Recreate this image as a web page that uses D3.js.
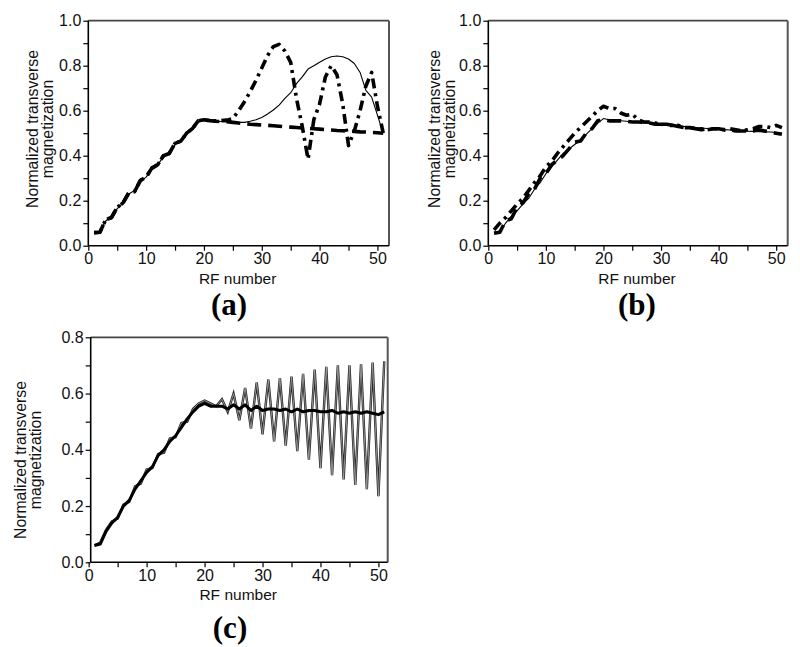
<!DOCTYPE html>
<html>
<head>
<meta charset="utf-8">
<script src="https://cdn.jsdelivr.net/npm/d3@7"></script>
<style>
  body { margin: 0; background: #fff; }
  svg { display: block; font-family: "Liberation Sans", Arial, sans-serif; }
</style>
</head>
<body>
<svg id="fig" width="800" height="647"></svg>
<script>
// RF pulse index (x)
const rfNumber = [1,2,3,4,5,6,7,8,9,10,11,12,13,14,15,16,17,18,19,20,21,22,23,24,25,26,
  27,28,29,30,31,32,33,34,35,36,37,38,39,40,41,42,43,44,45,46,47,48,49,50,51];

// panel (a)
const aSolid = [0.058,0.062,0.11,0.13,0.165,0.19,0.23,0.245,0.285,0.305,0.34,0.36,0.395,0.41,0.45,0.465,0.5,0.52,0.552,0.56,
  0.556,0.553,0.552,0.55,0.55,0.548,0.548,0.553,0.56,0.57,0.585,0.603,0.625,0.655,0.68,0.72,0.75,0.785,0.80,0.815,
  0.83,0.84,0.843,0.84,0.83,0.81,0.77,0.69,0.66,0.58,0.50];
const aDash = [0.058,0.06,0.115,0.125,0.17,0.19,0.235,0.24,0.29,0.305,0.345,0.36,0.40,0.41,0.455,0.465,0.50,0.52,0.555,0.56,
  0.556,0.553,0.552,0.551,0.548,0.545,0.543,0.54,0.538,0.536,0.535,0.533,0.531,0.529,0.527,0.525,0.523,0.521,0.52,0.518,
  0.516,0.514,0.512,0.511,0.509,0.508,0.506,0.505,0.503,0.502,0.50];
const aDashDot = [0.058,0.06,0.115,0.125,0.17,0.19,0.235,0.24,0.29,0.305,0.345,0.36,0.40,0.41,0.455,0.465,0.50,0.52,0.555,0.56,
  0.555,0.555,0.556,0.558,0.565,0.60,0.64,0.685,0.735,0.79,0.845,0.885,0.895,0.865,0.815,0.655,0.53,0.385,0.56,0.63,
  0.75,0.80,0.76,0.63,0.445,0.51,0.60,0.71,0.77,0.62,0.50];

// panel (b)
const bSolid = [0.06,0.065,0.10,0.13,0.155,0.185,0.21,0.25,0.28,0.32,0.35,0.38,0.41,0.43,0.45,0.47,0.495,0.52,0.545,0.565,
  0.56,0.557,0.555,0.553,0.55,0.548,0.546,0.544,0.542,0.54,0.537,0.535,0.532,0.53,0.528,0.525,0.523,0.521,0.52,0.518,
  0.516,0.514,0.512,0.51,0.509,0.508,0.507,0.506,0.505,0.503,0.50];
const bDash = [0.055,0.06,0.11,0.12,0.17,0.19,0.23,0.25,0.30,0.32,0.36,0.38,0.40,0.43,0.46,0.465,0.50,0.52,0.555,0.56,
  0.555,0.555,0.555,0.553,0.55,0.55,0.548,0.545,0.54,0.54,0.535,0.535,0.53,0.525,0.525,0.52,0.515,0.52,0.52,0.52,
  0.515,0.515,0.51,0.51,0.51,0.51,0.515,0.51,0.505,0.50,0.495];
const bDashDot = [0.07,0.10,0.125,0.155,0.185,0.21,0.245,0.28,0.31,0.35,0.375,0.41,0.44,0.47,0.50,0.525,0.55,0.575,0.60,0.62,
  0.61,0.61,0.59,0.58,0.585,0.56,0.55,0.55,0.545,0.54,0.54,0.535,0.535,0.525,0.525,0.52,0.52,0.515,0.52,0.52,
  0.515,0.52,0.515,0.51,0.515,0.52,0.53,0.53,0.525,0.535,0.525];

// panel (c)
const cThin = [0.06,0.07,0.115,0.145,0.155,0.205,0.215,0.27,0.28,0.33,0.335,0.385,0.39,0.44,0.445,0.495,0.50,0.545,0.565,0.575,
  0.565,0.555,0.58,0.535,0.60,0.505,0.62,0.475,0.64,0.455,0.65,0.43,0.655,0.415,0.66,0.395,0.67,0.365,0.685,0.335,
  0.695,0.31,0.70,0.295,0.70,0.275,0.705,0.26,0.71,0.235,0.715];
const cThick = [0.06,0.065,0.11,0.14,0.16,0.20,0.22,0.26,0.29,0.32,0.34,0.38,0.40,0.43,0.45,0.48,0.51,0.535,0.555,0.565,
  0.555,0.555,0.555,0.545,0.56,0.545,0.56,0.54,0.555,0.54,0.545,0.545,0.54,0.545,0.535,0.545,0.535,0.54,0.54,0.535,
  0.535,0.54,0.53,0.535,0.53,0.535,0.53,0.535,0.53,0.525,0.535];

// axis ticks
const xTicks = [0,5,10,15,20,25,30,35,40,45,50];
const xLabelled = [0,10,20,30,40,50];
const yTicksAB = [0,0.1,0.2,0.3,0.4,0.5,0.6,0.7,0.8,0.9,1.0];
const yTicksC = [0,0.1,0.2,0.3,0.4,0.5,0.6,0.7,0.8];
const yLabelled = [0,0.2,0.4,0.6,0.8,1.0];

const styles = {
  solid:   { width: 1.1, dash: null },
  dash:    { width: 3.6, dash: "14,7" },
  dashdot: { width: 3.6, dash: "10,5,3,5" }
};

const panels = [
  { tag: "(a)", left: 88.3, right: 389, top: 20.7, bottom: 245.7, xDom: [0, 52], yMax: 1.0, yTicks: yTicksAB,
    ylabX: 32, ylabY: 129, tagX: 229, tagY: 315,
    series: [ { v: aDash, s: "dash" }, { v: aDashDot, s: "dashdot" }, { v: aSolid, s: "solid" } ] },
  { tag: "(b)", left: 488.3, right: 787.7, top: 20.7, bottom: 245.7, xDom: [0, 52], yMax: 1.0, yTicks: yTicksAB,
    ylabX: 434, ylabY: 129, tagX: 637, tagY: 315,
    series: [ { v: bDash, s: "dash" }, { v: bDashDot, s: "dashdot" }, { v: bSolid, s: "solid" } ] },
  { tag: "(c)", left: 90.7, right: 387.7, top: 337.3, bottom: 562.3, xDom: [0.35, 51.6], yMax: 0.8, yTicks: yTicksC,
    ylabX: 20, ylabY: 460, tagX: 230, tagY: 638,
    series: [ { v: cThin, s: "thin" }, { v: cThick, s: "thick" } ] }
];

const svg = d3.select("#fig");

panels.forEach(p => {
  const x = d3.scaleLinear().domain(p.xDom).range([p.left, p.right]);
  const y = d3.scaleLinear().domain([0, p.yMax]).range([p.bottom, p.top]);
  const g = svg.append("g");

  // frame: top and right
  g.append("line").attr("x1", p.left).attr("x2", p.right).attr("y1", p.top).attr("y2", p.top)
    .attr("stroke", "#444").attr("stroke-width", 1.8);
  g.append("line").attr("x1", p.right).attr("x2", p.right).attr("y1", p.top).attr("y2", p.bottom)
    .attr("stroke", "#555").attr("stroke-width", 2);

  const xAxis = g.append("g")
    .attr("transform", `translate(0,${p.bottom})`)
    .call(d3.axisBottom(x).tickValues(xTicks).tickSize(5).tickPadding(2)
      .tickFormat(d => xLabelled.includes(d) ? d : ""));
  const yAxis = g.append("g")
    .attr("transform", `translate(${p.left},0)`)
    .call(d3.axisLeft(y).tickValues(p.yTicks).tickSize(5).tickPadding(2)
      .tickFormat(d => yLabelled.some(l => Math.abs(l - d) < 1e-9) ? d3.format(".1f")(d) : ""));

  [xAxis, yAxis].forEach(a => {
    a.select(".domain").attr("stroke", "#000").attr("stroke-width", 1.6);
    a.selectAll(".tick line").attr("stroke", "#000").attr("stroke-width", 1.2);
    a.selectAll("text").attr("font-size", 16).attr("fill", "#111")
      .attr("font-family", "'Liberation Sans', Arial, sans-serif");
  });
  // keep the axis lines inside the frame
  xAxis.select(".domain").attr("d", `M${p.left},0H${p.right}`);
  yAxis.select(".domain").attr("d", `M0,${p.top}V${p.bottom}`);

  const line = d3.line().x((d, i) => x(rfNumber[i])).y(d => y(d));

  p.series.forEach(sr => {
    if (sr.s === "thin") {
      g.append("path").datum(sr.v).attr("d", line).attr("fill", "none")
        .attr("stroke", "#222").attr("stroke-width", 2.4);
      g.append("path").datum(sr.v).attr("d", line).attr("fill", "none")
        .attr("stroke", "#aaa").attr("stroke-width", 0.8);
    } else if (sr.s === "thick") {
      g.append("path").datum(sr.v).attr("d", line).attr("fill", "none")
        .attr("stroke", "#000").attr("stroke-width", 3).attr("stroke-linejoin", "round");
    } else {
      const st = styles[sr.s];
      g.append("path").datum(sr.v).attr("d", line).attr("fill", "none")
        .attr("stroke", "#000").attr("stroke-width", st.width)
        .attr("stroke-dasharray", st.dash)
        .attr("stroke-linejoin", "round");
    }
  });

  // axis titles
  g.append("text").attr("x", (p.left + p.right) / 2 - 1).attr("y", p.bottom + 38)
    .attr("text-anchor", "middle").attr("font-size", 15.5).attr("fill", "#111").text("RF number");

  const yl = g.append("text").attr("transform", `translate(${p.ylabX},${p.ylabY}) rotate(-90)`)
    .attr("text-anchor", "middle").attr("font-size", 15.8).attr("fill", "#111");
  yl.append("tspan").attr("x", 0).attr("dy", "0.35em").text("Normalized transverse");
  yl.append("tspan").attr("x", 0).attr("dy", "0.95em").text("magnetization");

  g.append("text").attr("x", p.tagX).attr("y", p.tagY).attr("text-anchor", "middle")
    .attr("font-family", "'Liberation Serif', 'Times New Roman', serif").attr("font-weight", "bold")
    .attr("font-size", 31).attr("fill", "#000").text(p.tag);
});
</script>
</body>
</html>
